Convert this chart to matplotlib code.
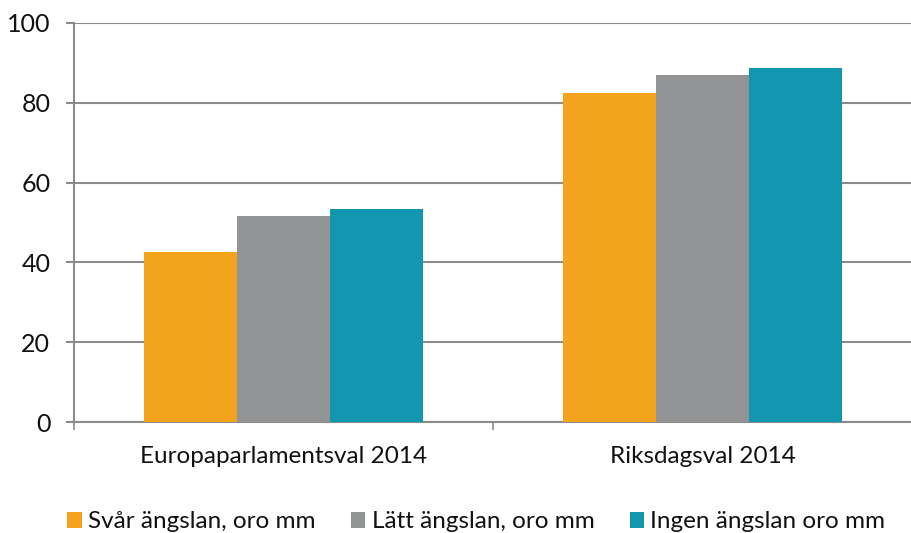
import matplotlib
matplotlib.use('Agg')
import matplotlib.pyplot as plt
import matplotlib.patches as mpatches
import numpy as np

plt.rcParams['font.family'] = ['Lato', 'DejaVu Sans']

categories = ['Europaparlamentsval 2014', 'Riksdagsval 2014']
series = ['Svår ängslan, oro mm', 'Lätt ängslan, oro mm', 'Ingen ängslan oro mm']
svar = [42.5, 82.3]
latt = [51.6, 87.0]
ingen = [53.4, 88.7]
yticks = [0, 20, 40, 60, 80, 100]

COLORS = ['#F4A41C', '#929395', '#1397B0']
GRID = '#8c8c8c'
TXT = '#111111'

fig = plt.figure(figsize=(9.12, 5.33), dpi=100)
fig.patch.set_facecolor('white')
ax = fig.add_axes([0.0811, 0.2077, 0.9189, 0.7497])

x = np.arange(len(categories))
w = 0.2225
for k, (vals, col) in enumerate(zip([svar, latt, ingen], COLORS)):
    ax.bar(x + (k - 1) * w, vals, width=w, color=col, edgecolor='none', zorder=3)

ax.set_xlim(-0.5, len(categories) - 0.5)
ax.set_ylim(0, 100)
ax.set_yticks(yticks)
ax.yaxis.grid(True, color=GRID, linewidth=1.5, zorder=0)
ax.set_axisbelow(True)

ax.set_xticks(x)
ax.set_xticklabels(categories, fontsize=17.5, color=TXT)
ax.set_xticks(np.arange(len(categories) + 1) - 0.5, minor=True)
ax.tick_params(axis='x', which='major', length=0, pad=17)
ax.tick_params(axis='x', which='minor', length=6, width=1.2, color=GRID, direction='out')
ax.tick_params(axis='y', length=6, width=1.5, color=GRID, labelsize=18,
               labelcolor=TXT, pad=11)

for s in ['top', 'right']:
    ax.spines[s].set_visible(False)
ax.spines['left'].set_color(GRID)
ax.spines['left'].set_linewidth(1.5)
ax.spines['bottom'].set_color(GRID)
ax.spines['bottom'].set_linewidth(1.5)

handles = [mpatches.Patch(facecolor=c, edgecolor='none', label=l)
           for c, l in zip(COLORS, series)]
fig.legend(handles=handles, loc='lower left', bbox_to_anchor=(0.050, -0.040),
           ncol=3, frameon=False, fontsize=17.5, handlelength=0.6, handleheight=0.6,
           handletextpad=0.25, columnspacing=1.45, labelcolor=TXT)

fig.savefig('out.png', dpi=100, facecolor='white')
